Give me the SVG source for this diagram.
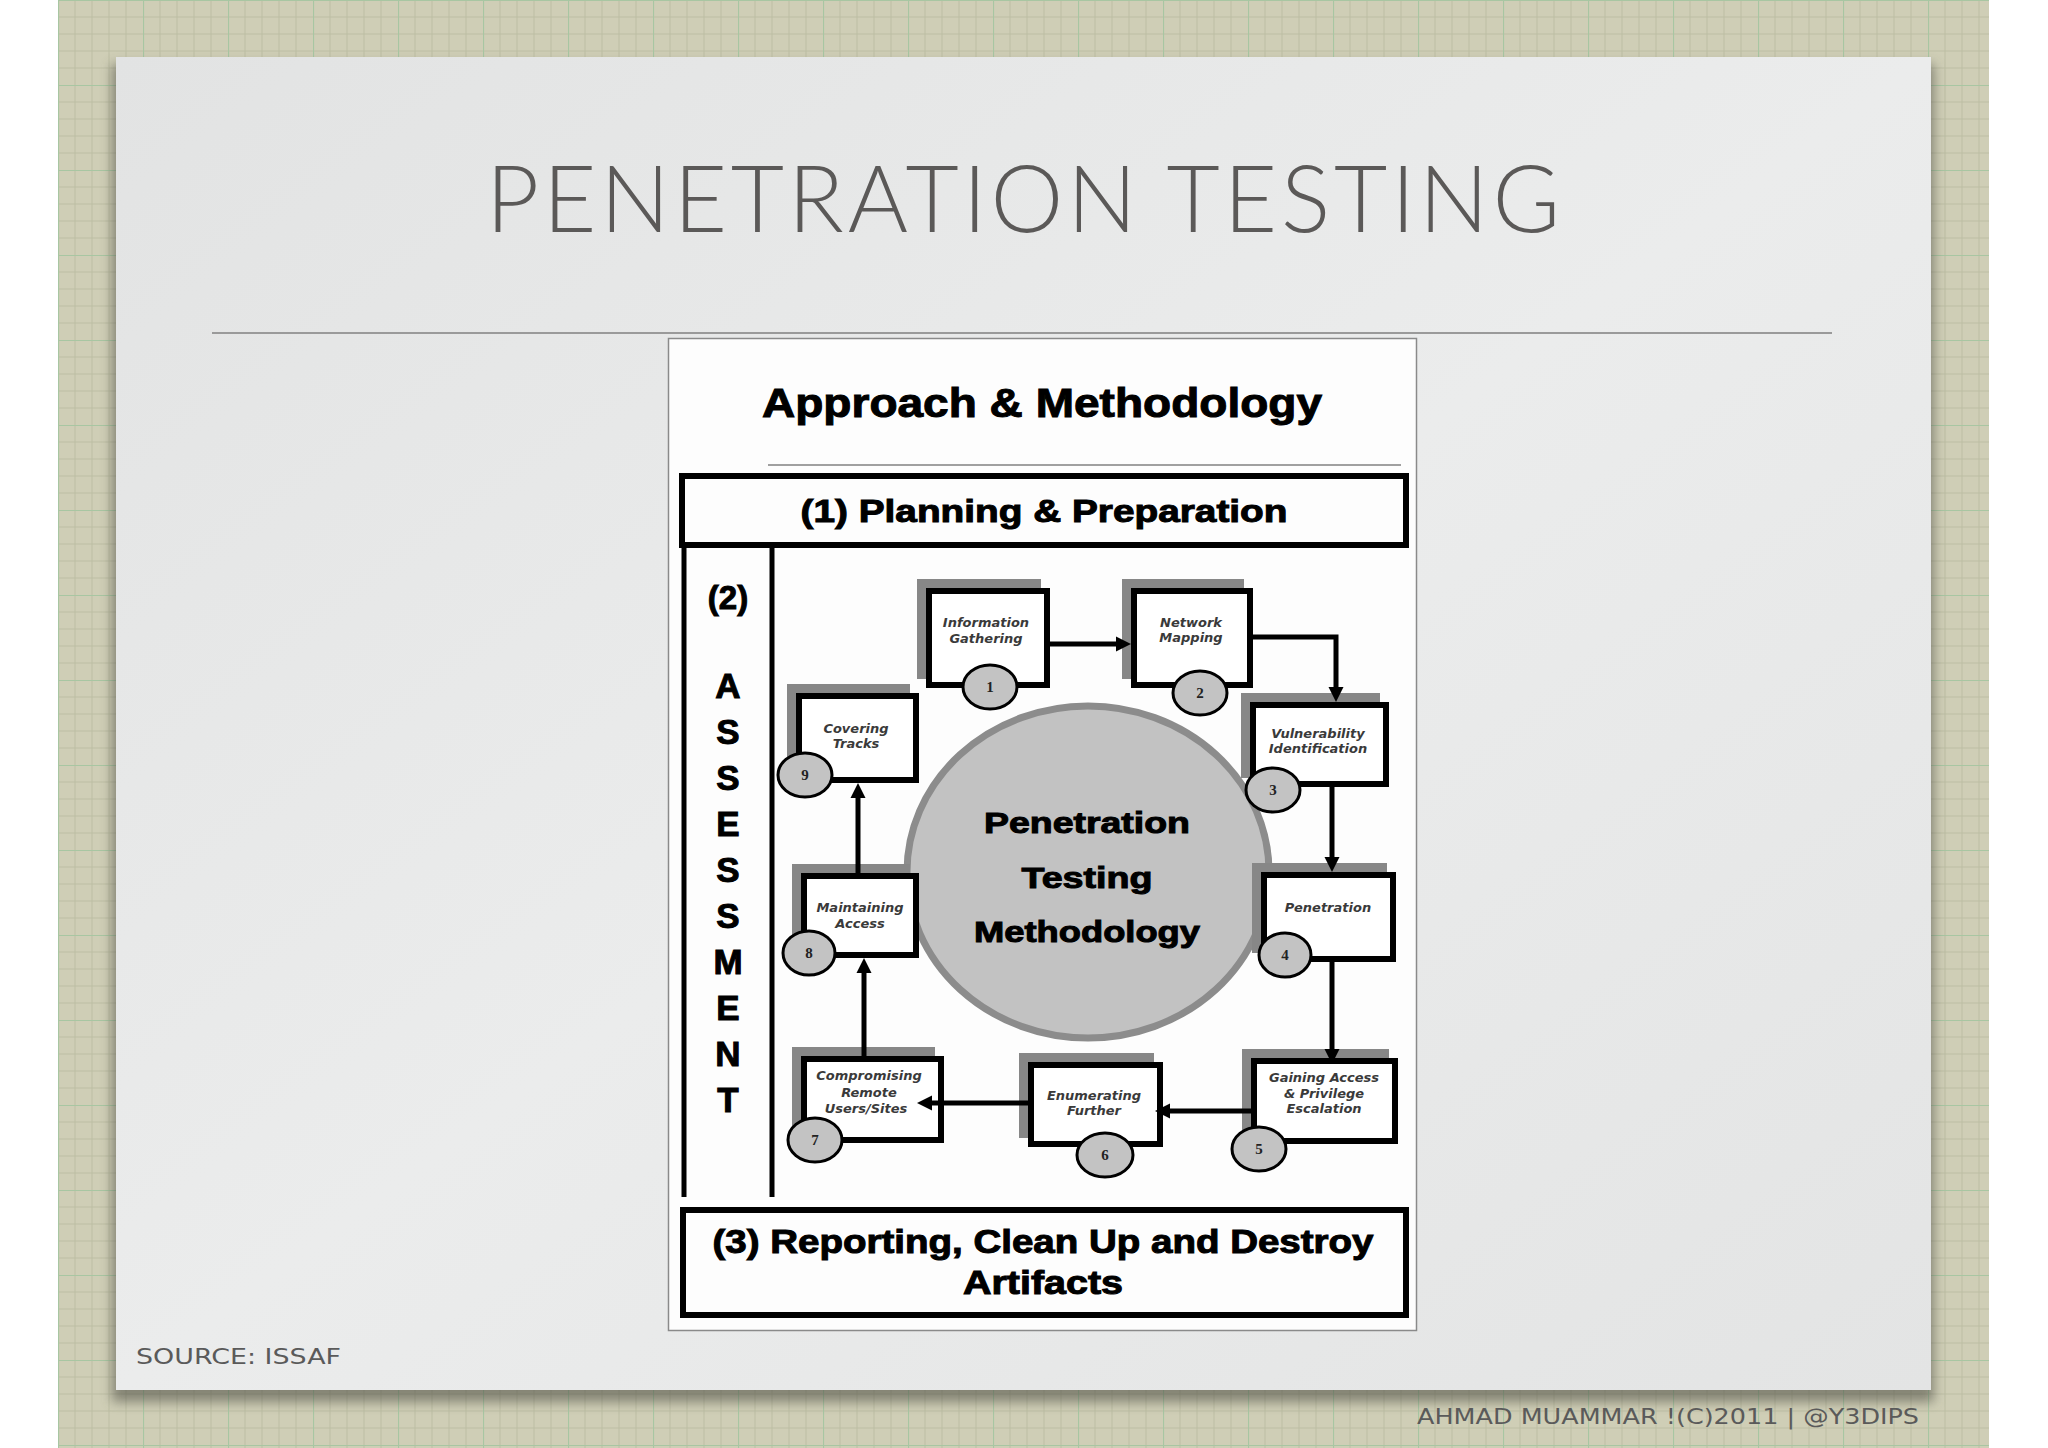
<svg xmlns="http://www.w3.org/2000/svg" width="2048" height="1448" viewBox="0 0 2048 1448">
<defs>
  <pattern id="grid" x="58" y="0" width="85" height="85" patternUnits="userSpaceOnUse">
    <rect width="85" height="85" fill="#cfceb6"/>
    <path d="M17 0V85M34 0V85M51 0V85M68 0V85M0 17H85M0 34H85M0 51H85M0 68H85" stroke="#bdbea4" stroke-width="1" fill="none"/>
    <path d="M0.5 0V85M0 0.5H85" stroke="#a8c6a2" stroke-width="1.2" fill="none"/>
  </pattern>
  <linearGradient id="panel" x1="0" y1="0" x2="1" y2="1">
    <stop offset="0" stop-color="#e2e3e3"/>
    <stop offset="0.5" stop-color="#ebecec"/>
    <stop offset="1" stop-color="#e3e4e4"/>
  </linearGradient>
  <filter id="blur" x="-5%" y="-5%" width="110%" height="110%">
    <feGaussianBlur stdDeviation="6"/>
  </filter>
  <marker id="arr" viewBox="0 0 10 10" refX="4.67" refY="5" markerWidth="15" markerHeight="16" markerUnits="userSpaceOnUse" orient="auto">
    <path d="M0,0 L10,5 L0,10 z" fill="#000"/>
  </marker>
  <style>
    .frame{fill:none;stroke:#000;stroke-width:6}
    .vline{stroke:#000;stroke-width:5}
    .box{fill:#fff;stroke:#000;stroke-width:6}
    .shadow{fill:#878787}
    .num{fill:#c3c3c3;stroke:#000;stroke-width:3}
    .numt{font-family:"Liberation Serif",serif;font-weight:bold;font-size:15px;fill:#222;text-anchor:middle}
    .lbl{font-family:"DejaVu Sans",sans-serif;font-style:italic;font-weight:bold;font-size:13px;fill:#3a3a3a;text-anchor:middle}
    .hd{font-family:"Liberation Sans",Arial,sans-serif;font-weight:bold;fill:#000;stroke:#000;stroke-width:1;text-anchor:middle}
    .conn{fill:none;stroke:#000;stroke-width:5;marker-end:url(#arr)}
    .hand{font-family:"DejaVu Sans",sans-serif;fill:#5a5a5a}
  </style>
</defs>

<!-- background -->
<rect x="0" y="0" width="2048" height="1448" fill="#ffffff"/>
<rect x="58" y="0" width="1931" height="1448" fill="url(#grid)"/>

<!-- slide panel -->
<rect x="112" y="64" width="1822" height="1338" fill="#4a4a40" opacity="0.55" filter="url(#blur)"/>
<rect x="116" y="57" width="1815" height="1333" fill="url(#panel)"/>

<text x="486" y="232" textLength="1074" font-family="Lato, 'Open Sans', sans-serif" font-weight="300" font-size="92" fill="#5b5958">PENETRATION TESTING</text>
<line x1="212" y1="333" x2="1832" y2="333" stroke="#9a9a9a" stroke-width="2"/>

<text class="hand" x="136" y="1364" font-size="21" textLength="205" lengthAdjust="spacingAndGlyphs">SOURCE: ISSAF</text>
<text class="hand" x="1417" y="1424" font-size="21" textLength="502" lengthAdjust="spacingAndGlyphs">AHMAD MUAMMAR !(C)2011 | @Y3DIPS</text>

<!-- diagram picture -->
<g id="picture">
  <rect x="668.5" y="338.5" width="748" height="992" fill="#fdfdfd" stroke="#8a8a8a" stroke-width="1.5"/>
  <text class="hd" x="1042" y="417" font-size="40" textLength="560" lengthAdjust="spacingAndGlyphs">Approach &amp; Methodology</text>
  <line x1="768" y1="465" x2="1401" y2="465" stroke="#a0a0a0" stroke-width="2"/>
</g>

<g id="planning">
  <rect class="frame" x="682" y="476" width="724" height="69"/>
  <text class="hd" x="1044" y="522" font-size="32" textLength="487" lengthAdjust="spacingAndGlyphs">(1) Planning &amp; Preparation</text>
</g>

<g id="assessment">
  <line class="vline" x1="684" y1="545" x2="684" y2="1197"/>
  <line class="vline" x1="772" y1="545" x2="772" y2="1197"/>
  <text class="hd" x="728" y="609" font-size="33">(2)</text>
  <g class="hd" font-size="35" stroke-width="1.5">
    <text x="728" y="698">A</text>
    <text x="728" y="744">S</text>
    <text x="728" y="790">S</text>
    <text x="728" y="836">E</text>
    <text x="728" y="882">S</text>
    <text x="728" y="928">S</text>
    <text x="728" y="974">M</text>
    <text x="728" y="1020">E</text>
    <text x="728" y="1066">N</text>
    <text x="728" y="1112">T</text>
  </g>
</g>

<g id="reporting">
  <rect class="frame" x="683" y="1210" width="723" height="105"/>
  <text class="hd" x="1043" y="1253" font-size="33" textLength="661" lengthAdjust="spacingAndGlyphs">(3) Reporting, Clean Up and Destroy</text>
  <text class="hd" x="1043" y="1294" font-size="33" textLength="160" lengthAdjust="spacingAndGlyphs">Artifacts</text>
</g>

<g id="center">
  <ellipse cx="1088" cy="872" rx="181" ry="166" fill="#c2c2c2" stroke="#8c8c8c" stroke-width="7"/>
  <text class="hd" x="1087" y="833" font-size="30" textLength="206" lengthAdjust="spacingAndGlyphs">Penetration</text>
  <text class="hd" x="1087" y="888" font-size="30" textLength="131" lengthAdjust="spacingAndGlyphs">Testing</text>
  <text class="hd" x="1087" y="942" font-size="30" textLength="226" lengthAdjust="spacingAndGlyphs">Methodology</text>
</g>

<g id="step1">
  <rect class="shadow" x="917" y="579" width="124" height="100"/>
  <rect class="box" x="929" y="591" width="118" height="94"/>
  <text class="lbl" x="986" y="627">Information</text>
  <text class="lbl" x="986" y="643">Gathering</text>
  <ellipse class="num" cx="990" cy="687" rx="27" ry="22"/>
  <text class="numt" x="990" y="692">1</text>
</g>
<g id="step2">
  <rect class="shadow" x="1122" y="579" width="122" height="100"/>
  <rect class="box" x="1134" y="591" width="116" height="94"/>
  <text class="lbl" x="1191" y="627">Network</text>
  <text class="lbl" x="1191" y="642">Mapping</text>
  <ellipse class="num" cx="1200" cy="693" rx="27" ry="22"/>
  <text class="numt" x="1200" y="698">2</text>
</g>
<g id="step3">
  <rect class="shadow" x="1241" y="693" width="139" height="85"/>
  <rect class="box" x="1253" y="705" width="133" height="79"/>
  <text class="lbl" x="1318" y="738">Vulnerability</text>
  <text class="lbl" x="1318" y="753">Identification</text>
  <ellipse class="num" cx="1273" cy="790" rx="27" ry="22"/>
  <text class="numt" x="1273" y="795">3</text>
</g>
<g id="step4">
  <rect class="shadow" x="1252" y="863" width="135" height="90"/>
  <rect class="box" x="1264" y="875" width="129" height="84"/>
  <text class="lbl" x="1328" y="912">Penetration</text>
  <ellipse class="num" cx="1285" cy="955" rx="26" ry="22"/>
  <text class="numt" x="1285" y="960">4</text>
</g>
<g id="step5">
  <rect class="shadow" x="1242" y="1049" width="147" height="86"/>
  <rect class="box" x="1254" y="1061" width="141" height="80"/>
  <text class="lbl" x="1324" y="1082">Gaining Access</text>
  <text class="lbl" x="1324" y="1098">&amp; Privilege</text>
  <text class="lbl" x="1324" y="1113">Escalation</text>
  <ellipse class="num" cx="1259" cy="1149" rx="27" ry="22"/>
  <text class="numt" x="1259" y="1154">5</text>
</g>
<g id="step6">
  <rect class="shadow" x="1019" y="1053" width="135" height="85"/>
  <rect class="box" x="1031" y="1065" width="129" height="79"/>
  <text class="lbl" x="1094" y="1100">Enumerating</text>
  <text class="lbl" x="1094" y="1115">Further</text>
  <ellipse class="num" cx="1105" cy="1155" rx="28" ry="22"/>
  <text class="numt" x="1105" y="1160">6</text>
</g>
<g id="step7">
  <rect class="shadow" x="792" y="1047" width="143" height="87"/>
  <rect class="box" x="804" y="1059" width="137" height="81"/>
  <text class="lbl" x="869" y="1080">Compromising</text>
  <text class="lbl" x="869" y="1097">Remote</text>
  <text class="lbl" x="866" y="1113">Users/Sites</text>
  <ellipse class="num" cx="815" cy="1140" rx="27" ry="22"/>
  <text class="numt" x="815" y="1145">7</text>
</g>
<g id="step8">
  <rect class="shadow" x="792" y="864" width="118" height="85"/>
  <rect class="box" x="804" y="876" width="112" height="79"/>
  <text class="lbl" x="860" y="912">Maintaining</text>
  <text class="lbl" x="860" y="928">Access</text>
  <ellipse class="num" cx="809" cy="953" rx="26" ry="22"/>
  <text class="numt" x="809" y="958">8</text>
</g>
<g id="step9">
  <rect class="shadow" x="787" y="684" width="123" height="90"/>
  <rect class="box" x="799" y="696" width="117" height="84"/>
  <text class="lbl" x="856" y="733">Covering</text>
  <text class="lbl" x="856" y="748">Tracks</text>
  <ellipse class="num" cx="805" cy="775" rx="27" ry="22"/>
  <text class="numt" x="805" y="780">9</text>
</g>

<g id="connectors">
  <path class="conn" d="M1050,644 H1123"/>
  <path class="conn" d="M1253,637 H1336 V694"/>
  <path class="conn" d="M1332,787 V864"/>
  <path class="conn" d="M1332,962 V1056"/>
  <path class="conn" d="M1251,1111 H1163"/>
  <path class="conn" d="M1028,1103 H925"/>
  <path class="conn" d="M864,1056 V966"/>
  <path class="conn" d="M858,873 V791"/>
</g>
</svg>
